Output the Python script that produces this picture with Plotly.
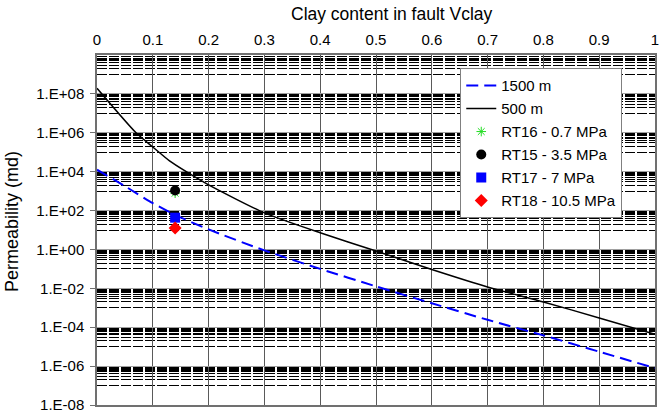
import plotly.graph_objects as go

# Fault permeability curves (md) against clay content at two burial depths
vclay_500 = [0.0, 0.07, 0.10, 0.13, 0.16, 0.20, 0.30, 0.40, 0.50, 0.60, 0.70, 0.80, 0.90, 1.00]
perm_500 = [1.95e8, 1.0e6, 1.86e5, 3.6e4, 1.0e4, 2.1e3, 76, 7.2, 0.83, 0.093, 0.0117, 2.0e-3, 3.0e-4, 4.3e-5]

vclay_1500 = [0.0, 0.05, 0.10, 0.14, 0.20, 0.30, 0.40, 0.50, 0.60, 0.70, 0.80, 0.90, 1.00]
perm_1500 = [1.26e4, 1.8e3, 240, 60, 10.7, 0.89, 0.1, 0.0126, 1.7e-3, 2.4e-4, 3.8e-5, 5.5e-6, 7.9e-7]

# Laboratory measurements at different confining pressures
sample_vclay = 0.14
rt16_perm = 780      # 0.7 MPa
rt15_perm = 1070     # 3.5 MPa
rt17_perm = 43       # 7 MPa
rt18_perm = 12.6     # 10.5 MPa

# Axis ticks
x_ticks = [0, 0.1, 0.2, 0.3, 0.4, 0.5, 0.6, 0.7, 0.8, 0.9, 1]
x_labels = ["0", "0.1", "0.2", "0.3", "0.4", "0.5", "0.6", "0.7", "0.8", "0.9", "1"]
y_exponents = [-8, -6, -4, -2, 0, 2, 4, 6, 8]
y_ticks = [10.0 ** e for e in y_exponents]
y_labels = [("1.E-%02d" % -e) if e < 0 else ("1.E+%02d" % e) for e in y_exponents]

# minor grid: k * 10^n for odd n between the labelled decades
minor_vals = [k * 10.0 ** n for n in range(-7, 10, 2) for k in range(1, 10)]

FONT = "Arial, 'Liberation Sans', sans-serif"

fig = go.Figure()

fig.add_trace(go.Scatter(
    x=vclay_1500, y=perm_1500, mode="lines", name="1500 m",
    line=dict(color="#0000ff", width=2, dash="12px,6px", shape="spline", smoothing=0.6),
    legendgroup="a",
))
fig.add_trace(go.Scatter(
    x=vclay_500, y=perm_500, mode="lines", name="500 m",
    line=dict(color="black", width=1.5, shape="spline", smoothing=0.6),
    legendgroup="b",
))
fig.add_trace(go.Scatter(
    x=[sample_vclay], y=[rt16_perm], mode="markers", name="RT16 - 0.7 MPa",
    marker=dict(symbol="asterisk-open", size=8, color="#22dd22", line=dict(color="#22dd22", width=1)),
    legendgroup="c",
))
fig.add_trace(go.Scatter(
    x=[sample_vclay], y=[rt15_perm], mode="markers", name="RT15 - 3.5 MPa",
    marker=dict(symbol="circle", size=10, color="black"),
    legendgroup="d",
))
fig.add_trace(go.Scatter(
    x=[sample_vclay], y=[rt17_perm], mode="markers", name="RT17 - 7 MPa",
    marker=dict(symbol="square", size=10, color="#0000ff"),
    legendgroup="e",
))
fig.add_trace(go.Scatter(
    x=[sample_vclay], y=[rt18_perm], mode="markers", name="RT18 - 10.5 MPa",
    marker=dict(symbol="diamond", size=10, color="#ff0000"),
    legendgroup="f",
))

fig.update_layout(
    width=661, height=415,
    margin=dict(l=97, r=2, t=55, b=9),
    paper_bgcolor="white", plot_bgcolor="white",
    font=dict(family=FONT, size=15, color="black"),
    showlegend=True,
    legend=dict(
        x=0.651, y=0.962, xanchor="left", yanchor="top",
        bgcolor="white", bordercolor="#808080", borderwidth=1,
        font=dict(family=FONT, size=15), tracegroupgap=0.5,
    ),
    xaxis=dict(
        side="top", range=[0, 1],
        tickmode="array", tickvals=x_ticks, ticktext=x_labels,
        ticklabeloverflow="allow", ticklabelstandoff=2,
        showgrid=True, gridcolor="#5a5a5a", gridwidth=1,
        showline=True, linecolor="#707070", linewidth=1.5, mirror=True,
        ticks="", zeroline=False,
    ),
    yaxis=dict(
        type="log", range=[-8, 10],
        tickmode="array", tickvals=y_ticks, ticktext=y_labels,
        ticklabelstandoff=3,
        showgrid=True, gridcolor="#a0a0a0", gridwidth=1,
        showline=True, linecolor="#707070", linewidth=1.5, mirror=True,
        ticks="outside", ticklen=5, tickcolor="#707070", zeroline=False,
        minor=dict(tickmode="array", tickvals=minor_vals, showgrid=True,
                   gridcolor="black", gridwidth=1, griddash="10px,2px", ticks=""),
    ),
    annotations=[
        dict(text="Clay content in fault Vclay", xref="paper", yref="paper",
             x=0.5285, y=1.0, yshift=41, xanchor="center", yanchor="middle",
             showarrow=False, font=dict(family=FONT, size=17.5)),
        dict(text="Permeability (md)", xref="paper", yref="paper",
             x=0.0, xshift=-85, y=0.523, xanchor="center", yanchor="middle",
             textangle=-90, showarrow=False, font=dict(family=FONT, size=18)),
    ],
)

fig.write_html("out.html")
